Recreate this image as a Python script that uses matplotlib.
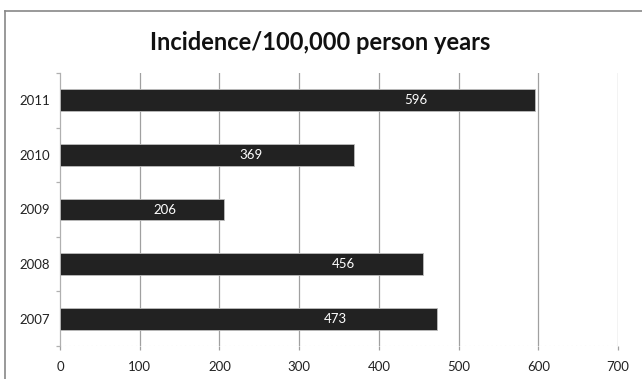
import matplotlib
matplotlib.use("Agg")
import matplotlib.pyplot as plt
from matplotlib.lines import Line2D
import numpy as np

years = ["2007", "2008", "2009", "2010", "2011"]
incidence = [473, 456, 206, 369, 596]
x_ticks = [0, 100, 200, 300, 400, 500, 600, 700]
title = "Incidence/100,000 person years"

# layout of the value labels (fraction of bar length, as placed in the original)
label_frac = [0.73, 0.78, 0.64, 0.65, 0.75]

plt.rcParams['font.family'] = ['Lato', 'DejaVu Sans']

fig = plt.figure(figsize=(6.42, 3.79), dpi=100)
ax = fig.add_axes([60/642, 1-346/379, 558/642, 273/379])

ypos = np.arange(len(years))
ax.barh(ypos, incidence, height=0.40, color="#222222", edgecolor="#bdbdbd",
        linewidth=0.6, zorder=3)
for y, v, f in zip(ypos, incidence, label_frac):
    ax.text(v*f, y, str(v), color="white", ha="center", va="center",
            fontsize=9.5, zorder=4)

ax.set_xlim(0, 700)
ax.set_ylim(-0.5, len(years)-0.5)
ax.set_xticks(x_ticks)
ax.set_xticklabels([str(t) for t in x_ticks])
ax.set_yticks(ypos)
ax.set_yticklabels(years)
ax.set_yticks(np.arange(-0.5, len(years)+0.5, 1), minor=True)

for t in x_ticks[1:]:
    ax.axvline(t, color="#a0a0a0", lw=0.9, zorder=1)

for s in ["top", "right", "bottom"]:
    ax.spines[s].set_visible(False)
ax.spines["left"].set_color("#b0b0b0")
ax.spines["left"].set_linewidth(0.9)
ax.axhline(-0.5, color="#c8c8c8", lw=0.8, ls=(0, (1, 3)), zorder=2)

ax.tick_params(axis="x", length=3, width=0.9, color="#a0a0a0", labelsize=9.5,
               labelcolor="#222222", pad=8)
ax.tick_params(axis="y", which="major", length=0, labelsize=9.5,
               labelcolor="#222222", pad=7)
ax.tick_params(axis="y", which="minor", length=3, width=0.9, color="#b0b0b0")

fig.text(320/642, 1-42/379, title, ha="center", va="center",
         fontsize=17, fontweight="bold", color="#111111")

# outer chart frame (top and left edges visible)
fig.add_artist(Line2D([5/642, 5/642], [0, 1-11/379], transform=fig.transFigure,
                      color="#888888", lw=1.2))
fig.add_artist(Line2D([5/642, 1], [1-11/379, 1-11/379], transform=fig.transFigure,
                      color="#888888", lw=1.2))

fig.savefig("out.png", dpi=100)
